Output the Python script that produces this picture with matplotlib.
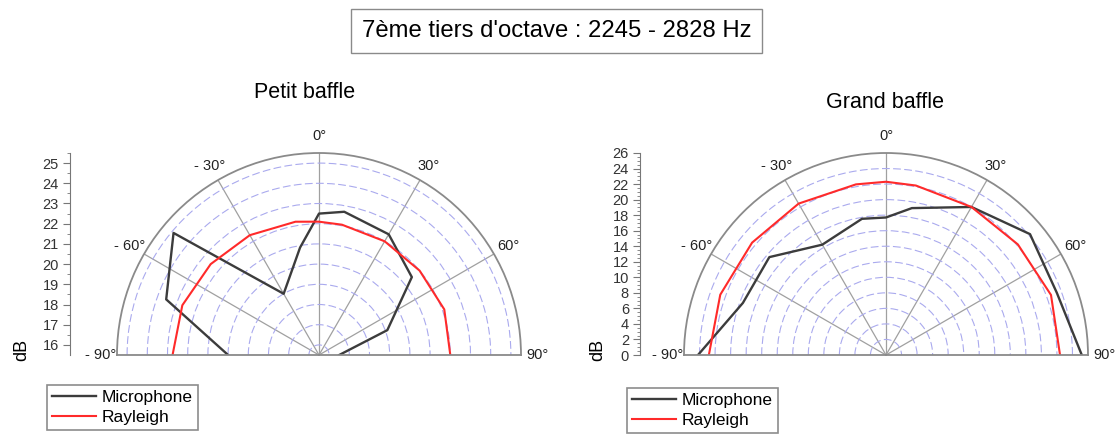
import numpy as np
import matplotlib.pyplot as plt

plt.rcParams['font.family'] = ['Liberation Sans', 'DejaVu Sans']

# measurement angles (degrees, 0 = on axis)
angles = [-90, -70, -50, -30, -10, 0, 10, 30, 50, 70, 90]

# small baffle, dB
petit_micro = [20.0, 23.55, 24.9, 19.0, 20.9, 22.5, 22.7, 22.4, 21.5, 19.1, 16.5]
petit_rayleigh = [22.75, 22.7, 22.5, 22.35, 22.2, 22.1, 22.05, 22.0, 22.0, 22.1, 22.0]

# large baffle, dB
grand_micro = [24.2, 19.6, 19.6, 16.4, 17.8, 17.7, 19.2, 22.0, 24.2, 23.4, 25.2]
grand_rayleigh = [22.8, 22.7, 22.5, 22.5, 22.3, 22.3, 22.15, 22.0, 22.15, 22.6, 22.4]

theta_ticks = [-90, -60, -30, 0, 30, 60, 90]
theta_labels = ['- 90°', '- 60°', '- 30°', '0°', '30°', '60°', '90°']
theta_minor = [-75, -45, -15, 15, 45, 75]

series_labels = ['Microphone', 'Rayleigh']

W, H = 1116, 436
fig = plt.figure(figsize=(W / 100, H / 100), dpi=100)


def half_polar(cx, scale_x, r_min, r_max, r_step, r_minor, micro, rayleigh,
               title, title_xy, legend_xy, db_x):
    # the half disc sits in the upper part of a square box (wedge bbox is squared)
    R, cy = 202, 355
    ax = fig.add_axes([(cx - R) / W, (H - cy - R / 2) / H, 2 * R / W, 2 * R / H],
                      projection='polar')
    ax.set_theta_zero_location('N')
    ax.set_theta_direction(-1)
    ax.set_thetamin(-90)
    ax.set_thetamax(90)
    ax.set_ylim(r_min, r_max)

    th = np.radians(angles)
    ax.plot(th, micro, color='#3c3c3c', lw=1.7, label=series_labels[0])
    ax.plot(th, rayleigh, color='#ff2a2a', lw=1.5, label=series_labels[1])

    # circles at every major dB step, spokes every 30 degrees
    first = np.ceil(r_min + 1e-6)
    ax.set_yticks(np.arange(first if r_step == 1 else r_min + r_step, r_max, r_step))
    ax.set_yticklabels([])
    ax.tick_params(axis='y', length=0)
    ax.yaxis.grid(True, color='#aaaaee', lw=0.8, ls=(0, (7, 3)))
    ax.set_xticks(np.radians(theta_ticks))
    ax.set_xticklabels(theta_labels, fontsize=10.5, color='#222222')
    ax.set_xticks(np.radians(theta_minor), minor=True)
    ax.xaxis.grid(True, color='#a0a0a0', lw=0.9, ls='-')
    ax.tick_params(axis='x', which='major', length=0, pad=5)
    ax.tick_params(axis='x', which='minor', direction='in', length=4,
                   color='#707070')
    for sp in ax.spines.values():
        sp.set_color('#8a8a8a')
        sp.set_linewidth(1.3)

    # linear dB scale to the left of the half disc
    sax = fig.add_axes([scale_x / W, (H - cy) / H, 0.0001, R / H])
    sax.set_ylim(r_min, r_max)
    sax.set_xticks([])
    for side in ['top', 'right', 'bottom']:
        sax.spines[side].set_visible(False)
    sax.spines['left'].set_color('#777777')
    sax.set_yticks(np.arange(np.ceil(r_min), r_max + 0.01, r_step))
    sax.set_yticks(np.arange(np.ceil(r_min), r_max + 0.01, r_minor), minor=True)
    sax.tick_params(axis='y', which='major', length=5, labelsize=10.5,
                    colors='#777777', labelcolor='#333333', pad=3)
    sax.tick_params(axis='y', which='minor', length=2.5, color='#777777')
    fig.text(db_x / W, 0.197, 'dB', rotation=90, ha='center', va='center',
             fontsize=13)

    fig.text(title_xy[0] / W, 1 - title_xy[1] / H, title, ha='center',
             va='center', fontsize=15.5)

    leg = fig.legend(*ax.get_legend_handles_labels(), loc='upper left',
                     bbox_to_anchor=(legend_xy[0] / W, 1 - legend_xy[1] / H),
                     fontsize=12.5, frameon=True, fancybox=False,
                     edgecolor='#707070', borderpad=0.3, handlelength=2.5,
                     handletextpad=0.35, labelspacing=0.25, borderaxespad=0)
    leg.get_frame().set_linewidth(1.2)
    return ax


half_polar(319, 70, 15.5, 25.5, 1, 0.5, petit_micro, petit_rayleigh,
           'Petit baffle', (305, 93), (47, 385), 22)
half_polar(886, 640, 0, 26, 2, 0.5, grand_micro, grand_rayleigh,
           'Grand baffle', (885, 103), (627, 388), 598)

fig.text(0.499, 0.929, "7ème tiers d'octave : 2245 - 2828 Hz", ha='center',
         va='center', fontsize=17.2,
         bbox=dict(boxstyle='square,pad=0.45', fc='white', ec='#8a8a8a', lw=1))

fig.savefig('out.png', dpi=100)
